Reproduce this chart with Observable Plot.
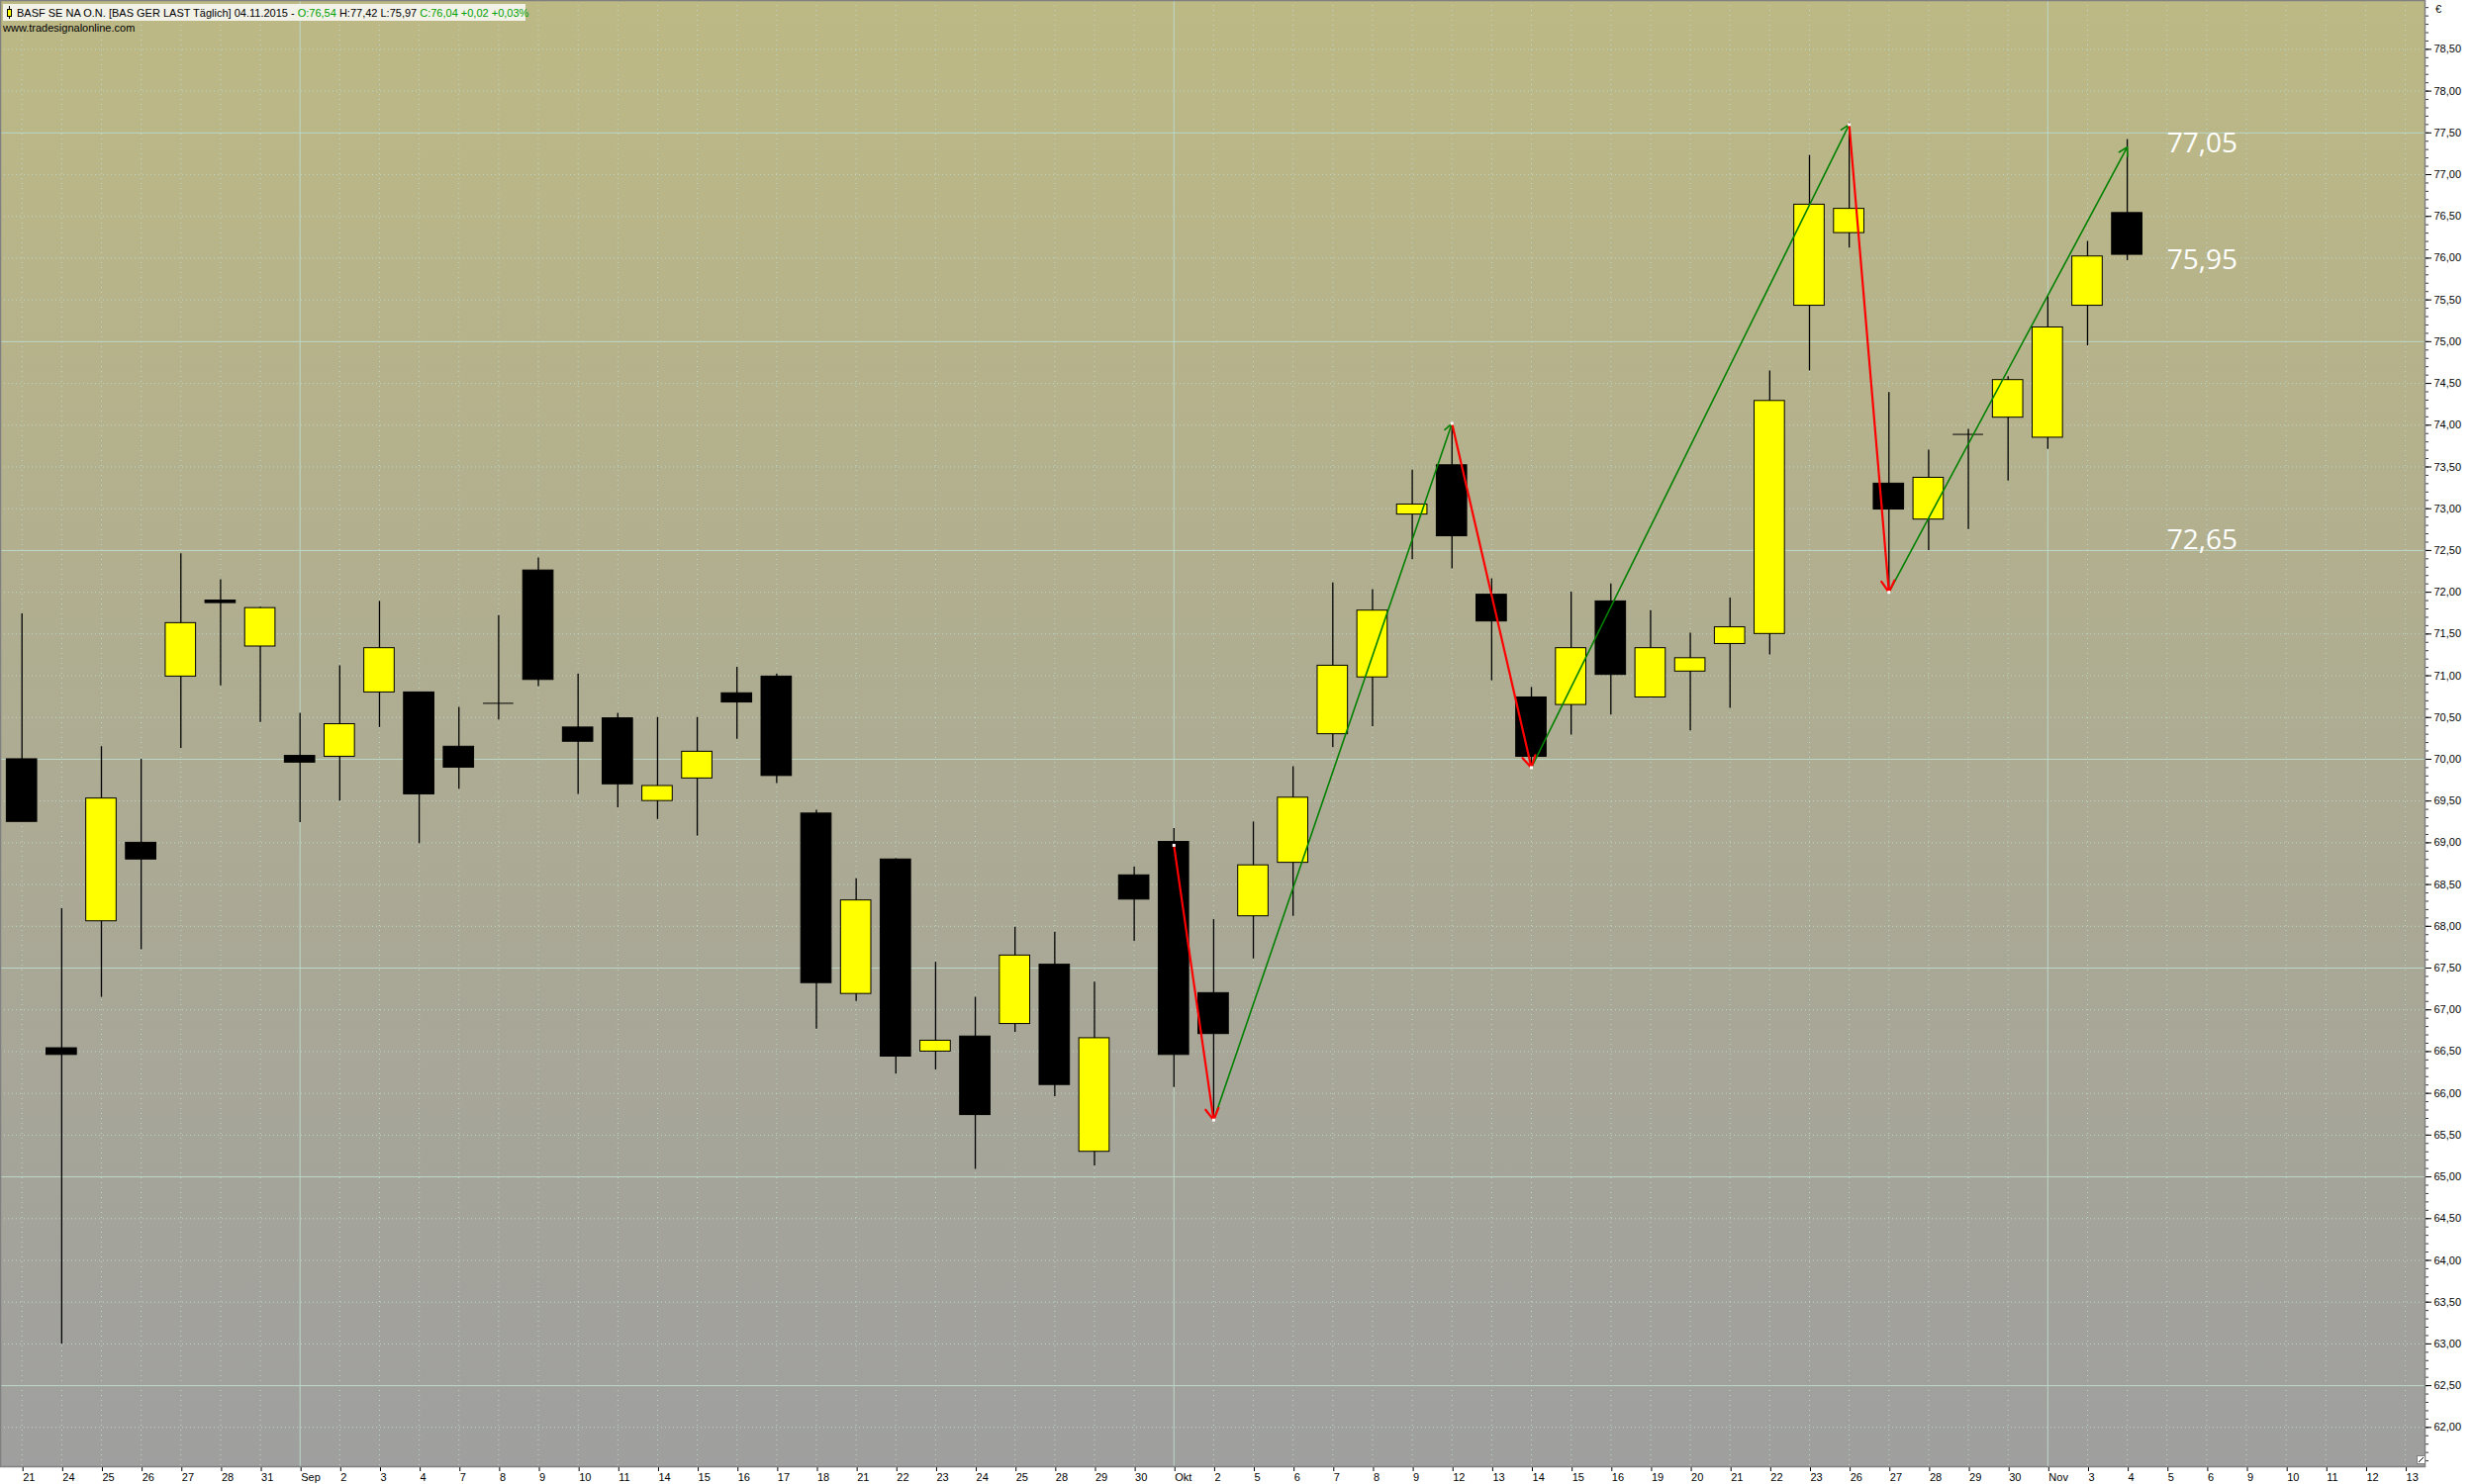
<!DOCTYPE html>
<html><head><meta charset="utf-8">
<script src="https://cdn.jsdelivr.net/npm/d3@7"></script>
<script src="https://cdn.jsdelivr.net/npm/@observablehq/plot@0.6"></script>
<style>
html,body{margin:0;padding:0;background:#fff;}
#chart{width:2500px;height:1500px;}
</style></head><body><div id="chart"></div>
<script>
// ---- data ----
const dayLabels = [
  "21","24","25","26","27","28","31",
  "Sep","2","3","4","7","8","9","10","11","14","15","16","17","18","21","22","23","24","25","28","29","30",
  "Okt","2","5","6","7","8","9","12","13","14","15","16","19","20","21","22","23","26","27","28","29","30",
  "Nov","3","4","5","6","9","10","11","12","13"
];
const monthStartIdx = [7, 29, 51];
const openP  = [70.00,66.54,68.06,69.00,70.99,71.90,71.35,70.04,70.03,70.80,70.80,70.15,70.67,72.26,70.38,70.49,69.50,69.77,70.79,70.99,69.35,67.19,68.80,66.50,66.68,66.83,67.54,65.30,68.61,69.01,67.20,68.12,68.76,70.30,70.98,72.93,73.52,71.97,70.74,70.65,71.89,70.74,71.05,71.38,71.50,75.43,76.30,73.30,72.87,73.89,74.09,73.85,75.43,76.54];
const highP  = [71.74,68.21,70.15,70.00,72.46,72.15,71.82,70.55,71.12,71.89,70.80,70.62,71.72,72.41,71.02,70.55,70.50,70.50,71.10,71.02,69.39,68.57,68.81,67.57,67.15,67.99,67.93,67.33,68.71,69.17,68.08,69.25,69.91,72.11,72.03,73.46,74.02,72.16,70.86,72.00,72.10,71.78,71.51,71.93,74.65,77.23,77.62,74.39,73.70,73.95,74.58,75.54,76.20,77.42];
const lowP   = [69.25,63.00,67.15,67.72,70.13,70.88,70.44,69.24,69.50,70.38,68.99,69.64,70.47,70.87,69.58,69.42,69.28,69.08,70.24,69.71,66.77,67.10,66.23,66.28,65.09,66.73,65.96,65.13,67.82,66.07,65.67,67.61,68.12,70.14,70.39,72.39,72.28,70.94,69.90,70.29,70.53,70.74,70.34,70.61,71.25,74.65,76.12,72.00,72.50,72.75,73.33,73.71,74.95,75.97];
const closeP = [69.25,66.46,69.53,68.80,71.63,71.87,71.81,69.96,70.42,71.33,69.58,69.90,70.67,70.95,70.21,69.70,69.68,70.09,70.68,69.80,67.32,68.31,66.44,66.63,65.74,67.65,66.10,66.66,68.32,66.46,66.71,68.73,69.54,71.12,71.78,73.05,72.67,71.65,70.03,71.33,71.01,71.33,71.21,71.58,74.29,76.64,76.59,72.99,73.37,73.89,74.54,75.17,76.02,76.04];
const pivotIdx   = [29, 30, 36, 38, 46, 47, 53];
const pivotPrice = [68.97, 65.68, 74.02, 69.90, 77.60, 72.00, 77.33];
const levelText  = ["77,05", "75,95", "72,65"];
const levelPrice = [77.37, 75.97, 72.62];
const levelIdx   = 54;
const headerParts = [
  ["BASF SE NA O.N. [BAS GER LAST Täglich] 04.11.2015 - ", "#000"],
  ["O:76,54 ", "#00a000"],
  ["H:77,42 L:75,97 ", "#000"],
  ["C:76,04 +0,02 +0,03%", "#00a000"]
];
const sourceText = "www.tradesignalonline.com";

// ---- derived tables ----
const candles = openP.map((o, i) => ({i, o, h: highP[i], l: lowP[i], c: closeP[i]}));
const upC = candles.filter(d => d.c > d.o);
const downC = candles.filter(d => d.c < d.o);
const dojiC = candles.filter(d => d.c === d.o);
const pivots = pivotIdx.map((x, k) => ({x, p: pivotPrice[k]}));
const segs = pivots.slice(1).map((b, k) => ({x1: pivots[k].x, y1: pivots[k].p, x2: b.x, y2: b.p}));
const segUp = segs.filter(s => s.y2 > s.y1);
const segDown = segs.filter(s => s.y2 < s.y1);
const levels = levelText.map((t, k) => ({t, p: levelPrice[k]}));

const halfTicks = d3.range(62, 78.51, 0.5).map(v => +v.toFixed(2));
const solidH = halfTicks.filter(v => Math.abs(v / 2.5 - Math.round(v / 2.5)) < 1e-6);
const dottedH = halfTicks.filter(v => !solidH.includes(v));
const tenthTicks = d3.range(61.6, 79.01, 0.1).map(v => +v.toFixed(2));
const dayIdx = d3.range(dayLabels.length);
const dottedV = dayIdx.filter(i => !monthStartIdx.includes(i));

const gridColor = "#bcd8c8";
const hw = 0.382;

const chart = Plot.plot({
  width: 2500, height: 1500,
  marginLeft: 0, marginRight: 50, marginTop: 0, marginBottom: 18,
  x: {type: "linear", domain: [-0.541, 60.496]},
  y: {domain: [61.53, 79.085]},
  style: {fontFamily: "Liberation Sans", fontSize: "11px", color: "#000", background: "#fff"},
  marks: [
    Plot.frame({fill: "url(#bgGrad)"}),
    Plot.ruleY(dottedH, {stroke: gridColor, strokeDasharray: "1,3", strokeWidth: 1}),
    Plot.ruleX(dottedV, {stroke: gridColor, strokeDasharray: "1,4", strokeWidth: 1}),
    Plot.ruleY(solidH, {stroke: gridColor, strokeWidth: 1}),
    Plot.ruleX(monthStartIdx, {stroke: gridColor, strokeWidth: 1}),
    Plot.ruleX(candles, {x: "i", y1: "l", y2: "h", stroke: "#000", strokeWidth: 1.3}),
    Plot.rect(upC, {x1: d => d.i - hw, x2: d => d.i + hw, y1: "o", y2: "c", fill: "#ffff00", stroke: "#000", strokeWidth: 1}),
    Plot.rect(downC, {x1: d => d.i - hw, x2: d => d.i + hw, y1: "o", y2: "c", fill: "#000", stroke: "#000", strokeWidth: 1}),
    Plot.ruleY(dojiC, {y: "o", x1: d => d.i - hw, x2: d => d.i + hw, stroke: "#000", strokeWidth: 1}),
    Plot.arrow(segUp, {x1: "x1", y1: "y1", x2: "x2", y2: "y2", stroke: "#008000", strokeWidth: 1.6, headLength: 9}),
    Plot.arrow(segDown, {x1: "x1", y1: "y1", x2: "x2", y2: "y2", stroke: "#ff0000", strokeWidth: 2.2, headLength: 9}),
    Plot.dot(pivots.slice(0, 6), {x: "x", y: "p", symbol: "square", r: 1.7, fill: "#fff", stroke: "none"}),
    Plot.text(levels, {x: () => levelIdx, y: "p", text: "t", fill: "#fff", fontSize: 28, fontFamily: "Open Sans", textAnchor: "start"}),
    Plot.axisY({anchor: "right", ticks: tenthTicks, tickSize: 3, tickFormat: () => "", label: null, stroke: "#333"}),
    Plot.axisY({anchor: "right", ticks: halfTicks, tickSize: 6, tickPadding: 3, tickFormat: d => d.toFixed(2).replace(".", ","), label: null, fontSize: 11}),
    Plot.axisX({ticks: dayIdx, tickSize: 5, tickPadding: 2, tickFormat: i => dayLabels[i], textAnchor: "start", dx: 1, label: null, fontSize: 11}),
    Plot.frame({stroke: "#808080", strokeWidth: 1.5})
  ]
});

const svg = d3.select(chart);
const defs = svg.insert("defs", ":first-child");
const lg = defs.append("linearGradient").attr("id", "bgGrad").attr("x1", 0).attr("y1", 0).attr("x2", 0).attr("y2", 1);
lg.append("stop").attr("offset", "0%").attr("stop-color", "#bdb985");
lg.append("stop").attr("offset", "100%").attr("stop-color", "#9f9f9f");

// header box
const hg = svg.append("g").attr("font-family", "Liberation Sans").attr("font-size", 11).attr("text-anchor", "start");
hg.append("rect").attr("x", 3).attr("y", 4).attr("width", 528).attr("height", 17).attr("fill", "#f2f2e9");
hg.append("line").attr("x1", 9.5).attr("x2", 9.5).attr("y1", 6).attr("y2", 19).attr("stroke", "#000");
hg.append("rect").attr("x", 7.5).attr("y", 9.5).attr("width", 4).attr("height", 7).attr("fill", "#ffff00").attr("stroke", "#000");
const ht = hg.append("text").attr("x", 17).attr("y", 17).attr("text-anchor", "start");
headerParts.forEach(([t, c]) => ht.append("tspan").attr("fill", c).text(t));
hg.append("text").attr("x", 3).attr("y", 32).attr("text-anchor", "start").attr("fill", "#000").text(sourceText);
svg.append("text").attr("x", 2461).attr("y", 13).attr("text-anchor", "start").attr("font-family", "Liberation Sans").attr("font-size", 11).text("€");
// small resize glyph
svg.append("rect").attr("x", 2442.5).attr("y", 1471.5).attr("width", 8).attr("height", 8).attr("fill", "#fff").attr("stroke", "#808080");
svg.append("line").attr("x1", 2444).attr("y1", 1478).attr("x2", 2449).attr("y2", 1473).attr("stroke", "#000");

document.getElementById("chart").appendChild(chart);
</script>
</body></html>
